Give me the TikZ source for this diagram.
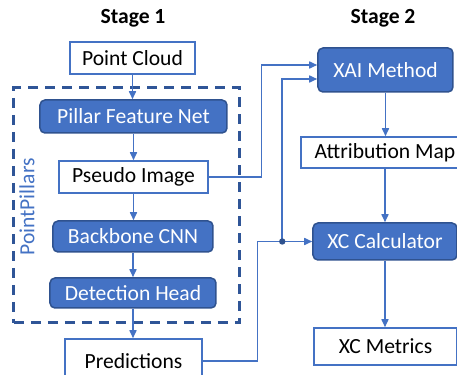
\documentclass[tikz,border=0pt]{standalone}
\usepackage{fontspec}
\setmainfont{Carlito}
\usepackage{tikz}
\usetikzlibrary{positioning,arrows.meta,calc}
\definecolor{xblue}{HTML}{4472C4}
\definecolor{xdark}{HTML}{2F528F}
\definecolor{xdash}{HTML}{2F5597}
\tikzstyle{plain} = [rectangle, draw=xblue, fill=white, line width=0.75pt, inner sep=0pt, text=black]
\tikzstyle{netbox} = [rectangle, draw=xdark, fill=xblue, line width=0.75pt, rounded corners=2.5pt, inner sep=0pt, text=white]
\tikzstyle{link} = [draw=xblue, line width=0.75pt, -{Triangle[length=4pt,width=3.5pt]}]

\begin{document}
\begin{tikzpicture}[x=0.5pt, y=-0.5pt, every node/.style={font=\fontsize{10.8}{13}\selectfont},
					stagehead/.style={font=\fontsize{10.8}{13}\selectfont\bfseries}]
		\useasboundingbox (0,0) rectangle (457,375);
		\clip (0,0) rectangle (457,375);
		\node[stagehead] (S1) at (133,18) {Stage 1};
		\node[stagehead] (S2) at (383,18) {Stage 2};
		\node[draw=xdash, line width=1.5pt, dash pattern=on 5pt off 3.5pt, minimum width=113pt, minimum height=117.5pt] (PP) at (127,205.5) {};
		\node[rotate=90, text=xblue] (PPlabel) at (27,207) {PointPillars};
		\node[plain, minimum width=62.5pt, minimum height=16pt] (cloud) at (132.5,58) {Point Cloud};
		\node[netbox, minimum width=93.5pt, minimum height=16.5pt] (pfn) at (133.5,116.5) {Pillar Feature Net};
		\node[plain, minimum width=74.5pt, minimum height=16pt] (pseudo) at (133.5,177) {Pseudo Image};
		\node[netbox, minimum width=80pt, minimum height=15.5pt] (cnn) at (133,236.5) {Backbone CNN};
		\node[netbox, minimum width=83pt, minimum height=15pt] (head) at (133,293) {Detection Head};
		\node[plain, minimum width=68.5pt, minimum height=22pt] (pred) at (133.5,361) {Predictions};
		\node[netbox, minimum width=67.5pt, minimum height=22pt] (xai) at (385.5,70) {XAI Method};
		\node[plain, minimum width=84pt, minimum height=15.5pt] (attr) at (385,152.5) {Attribution Map};
		\node[netbox, minimum width=72pt, minimum height=18.5pt] (calc) at (385,241.5) {XC Calculator};
		\node[plain, minimum width=71.5pt, minimum height=18.5pt] (metrics) at (385.5,346.5) {XC Metrics};
		\coordinate (tap) at ([xshift=-15pt]calc.west);
		\draw[link] (cloud.south) -- (cloud.south |- pfn.north);
		\draw[link] (pfn.south) -- (pfn.south |- pseudo.north);
		\draw[link] (pseudo.south) -- (pseudo.south |- cnn.north);
		\draw[link] (cnn.south) -- (cnn.south |- head.north);
		\draw[link] (head.south) -- (head.south |- pred.north);
		\draw[link] (xai.south) -- (xai.south |- attr.north);
		\draw[link] (attr.south) -- (attr.south |- calc.north);
		\draw[link] (calc.south) -- (calc.south |- metrics.north);
		\draw[link] (pseudo.east) -- ++(53,0) |- ([yshift=2.5pt]xai.west);
		\draw[link] (pred.east) -- ++(55,0) |- (calc.west);
		\draw[link] (tap) |- ([yshift=-4.5pt]xai.west);
		\fill[xdark] (tap) circle (1.6pt);
	\end{tikzpicture}
\end{document}
